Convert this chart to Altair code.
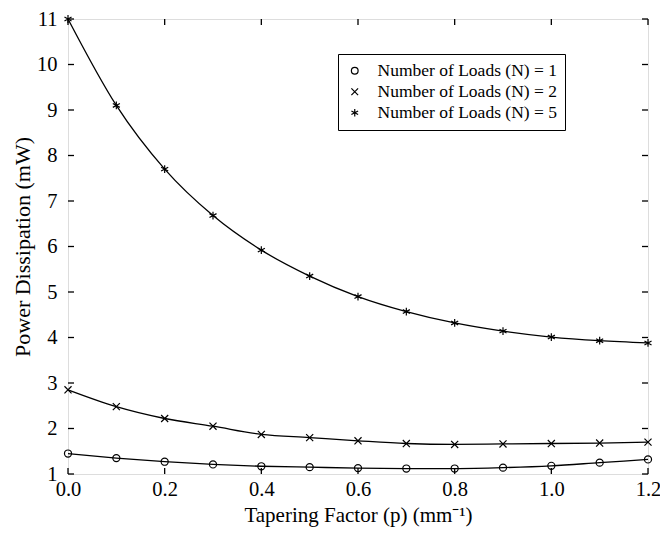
import altair as alt
import pandas as pd

p_values = [0.0, 0.1, 0.2, 0.3, 0.4, 0.5, 0.6, 0.7, 0.8, 0.9, 1.0, 1.1, 1.2]
n1 = [1.45, 1.35, 1.27, 1.21, 1.17, 1.15, 1.13, 1.12, 1.12, 1.14, 1.18, 1.25, 1.32]
n2 = [2.85, 2.48, 2.22, 2.05, 1.87, 1.80, 1.73, 1.67, 1.65, 1.66, 1.67, 1.68, 1.70]
n5 = [11.0, 9.10, 7.70, 6.68, 5.92, 5.35, 4.90, 4.57, 4.32, 4.14, 4.01, 3.93, 3.88]
series_names = ["Number of Loads (N) = 1", "Number of Loads (N) = 2", "Number of Loads (N) = 5"]
x_ticks = [0.0, 0.2, 0.4, 0.6, 0.8, 1.0, 1.2]
y_ticks = [1, 2, 3, 4, 5, 6, 7, 8, 9, 10, 11]

rows = []
for name, vals in zip(series_names, [n1, n2, n5]):
    for p, v in zip(p_values, vals):
        rows.append({"p": p, "power": v, "series": name})
df = pd.DataFrame(rows)
xt = pd.DataFrame({"t": x_ticks})
yt = pd.DataFrame({"t": y_ticks})

FONT = "Liberation Serif"
W, H = 580, 455

xscale = alt.Scale(domain=[0, 1.2], nice=False, zero=False)
yscale = alt.Scale(domain=[1, 11], nice=False, zero=False)

x_path = "M-1,-1L1,1M-1,1L1,-1"
ast_path = "M0,-1.1L0,1.1M-1,-0.55L1,0.55M-1,0.55L1,-0.55"

lines = alt.Chart(df).mark_line(color="black", strokeWidth=1.3, interpolate="monotone").encode(
    x=alt.X("p:Q", scale=xscale,
            axis=alt.Axis(values=x_ticks, format=".1f", ticks=False, domain=False, grid=False,
                          labelFlush=False, labelOverlap=False,
                          labelFont=FONT, labelFontSize=20.5, labelColor="black", labelPadding=5,
                          title="Tapering Factor (p) (mm\u207b\u00b9)", titleFont=FONT,
                          titleFontSize=21, titleFontWeight="normal", titleColor="black",
                          titlePadding=5)),
    y=alt.Y("power:Q", scale=yscale,
            axis=alt.Axis(values=y_ticks, ticks=False, domain=False, grid=False,
                          labelFlush=False, labelOverlap=False,
                          labelFont=FONT, labelFontSize=20.5, labelColor="black", labelPadding=11,
                          title="Power Dissipation (mW)", titleFont=FONT, titleFontSize=22,
                          titleFontWeight="normal", titleColor="black", titlePadding=2)),
    detail="series:N",
)

points = alt.Chart(df).mark_point(filled=False, color="black", strokeWidth=1.2, size=50, opacity=1).encode(
    x=alt.X("p:Q", scale=xscale),
    y=alt.Y("power:Q", scale=yscale),
    shape=alt.Shape("series:N", scale=alt.Scale(domain=series_names, range=["circle", x_path, ast_path]),
                    legend=alt.Legend(title=None, orient="none", legendX=270, legendY=35,
                                      labelFont=FONT, labelFontSize=17.5, labelColor="black",
                                      labelLimit=400,
                                      strokeColor="black", fillColor="white", padding=8,
                                      rowPadding=2, symbolSize=45, symbolStrokeColor="black",
                                      symbolStrokeWidth=1.2, symbolFillColor="transparent",
                                      labelOffset=14)),
)

xb = alt.Chart(xt).mark_rule(color="black", strokeWidth=1.3).encode(
    x=alt.X("t:Q", scale=xscale), y=alt.value(H), y2=alt.value(H - 6))
xtop = alt.Chart(xt).mark_rule(color="black", strokeWidth=1.3).encode(
    x=alt.X("t:Q", scale=xscale), y=alt.value(0), y2=alt.value(6))
yl = alt.Chart(yt).mark_rule(color="black", strokeWidth=1.3).encode(
    y=alt.Y("t:Q", scale=yscale), x=alt.value(0), x2=alt.value(6))
yr = alt.Chart(yt).mark_rule(color="black", strokeWidth=1.3).encode(
    y=alt.Y("t:Q", scale=yscale), x=alt.value(W), x2=alt.value(W - 6))

chart = alt.layer(xb, xtop, yl, yr, lines, points).properties(
    width=W, height=H, autosize=alt.AutoSizeParams(type="none"),
    padding={"left": 60, "top": 11, "right": 12, "bottom": 56},
).configure_view(stroke="black", strokeWidth=1.3).configure(background="white")

chart.save("out.html", embed_options={"renderer": "svg", "actions": False})
